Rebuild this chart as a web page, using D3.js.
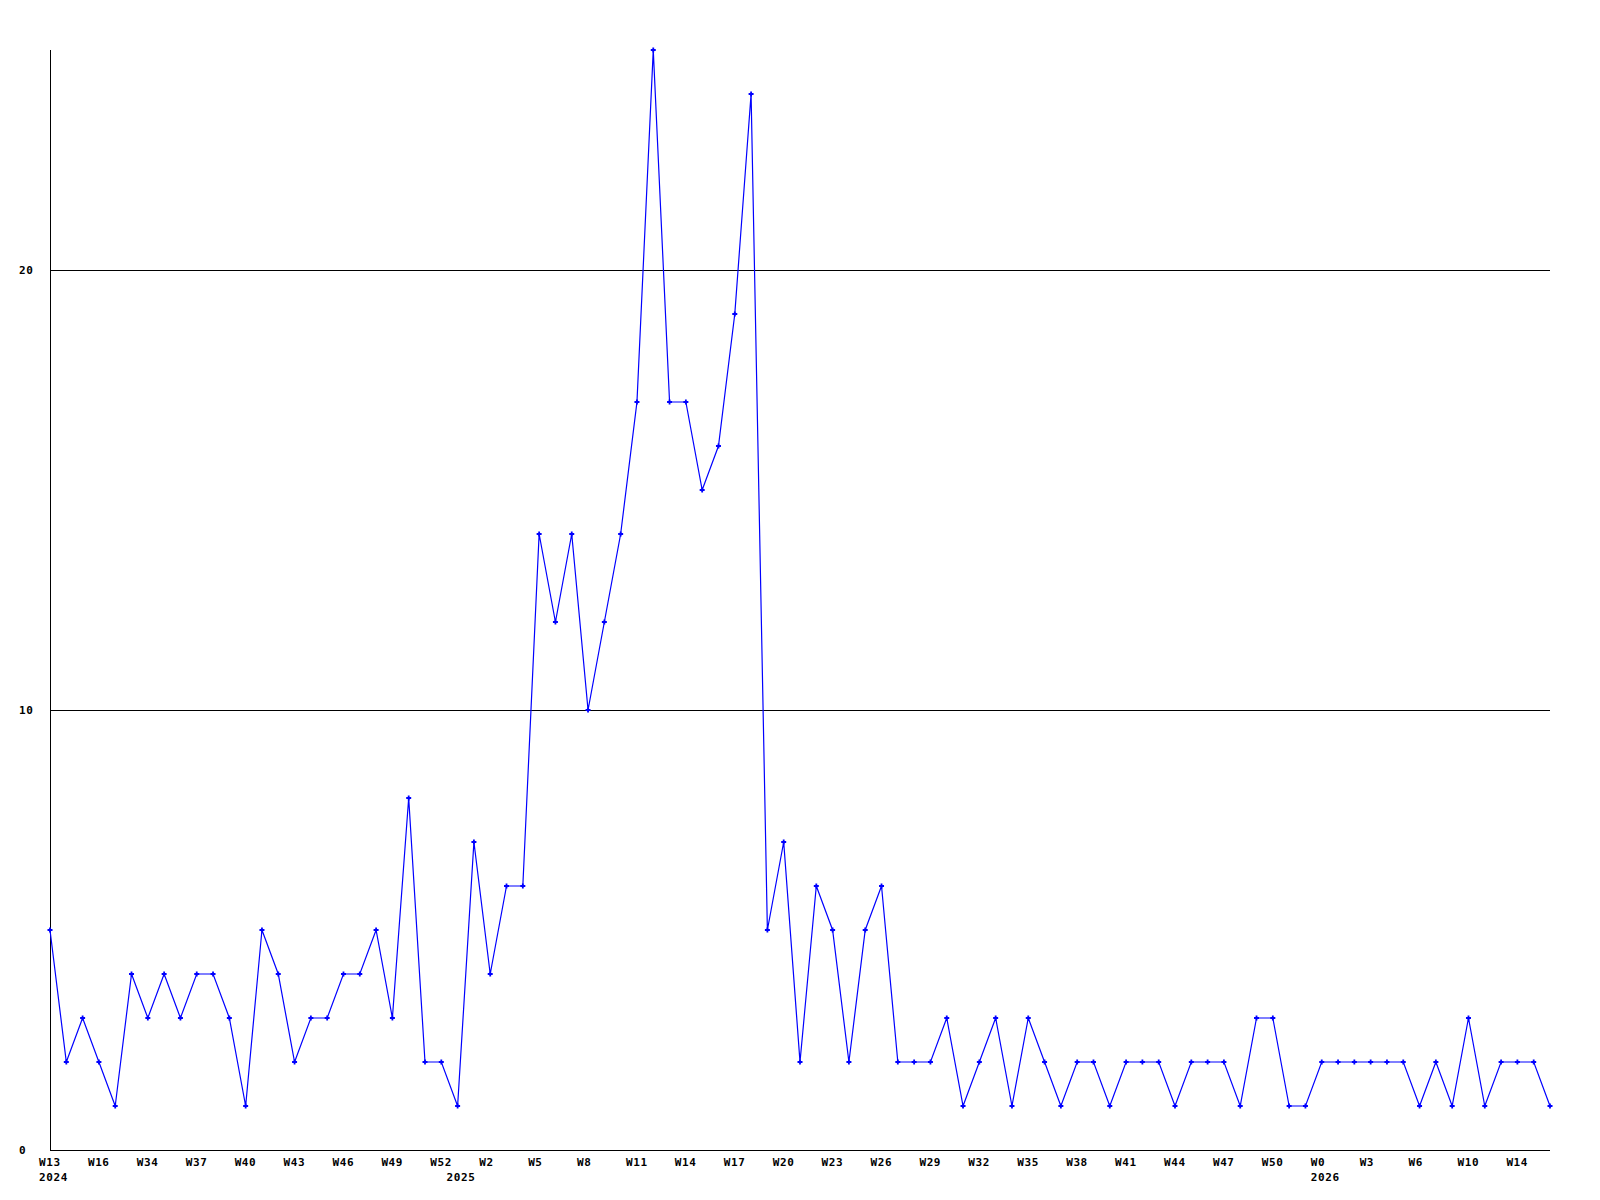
<!DOCTYPE html>
<html>
<head>
<meta charset="utf-8">
<script src="https://cdn.jsdelivr.net/npm/d3@7"></script>
<style>
html,body{margin:0;padding:0;background:#fff;}
text{font-family:"DejaVu Sans Mono",monospace;font-weight:bold;font-size:11px;letter-spacing:0.6px;fill:#000;}
</style>
</head>
<body>
<svg id="chart" width="1600" height="1200"></svg>
<script>
// Weekly values (one point per week, 93 points)
const values = [5,2,3,2,1,4,3,4,3,4,4,3,1,5,4,2,3,3,4,4,5,3,8,2,2,1,7,4,6,6,
  14,12,14,10,12,14,17,25,17,17,15,16,19,24,5,7,2,6,5,2,5,6,2,2,2,3,1,2,3,1,
  3,2,1,2,2,1,2,2,2,1,2,2,2,1,3,3,1,1,2,2,2,2,2,2,1,2,1,3,1,2,2,2,1];
// Week tick labels (index of point -> label)
const weekTickIndex = [0,3,6,9,12,15,18,21,24,27,30,33,36,39,42,45,48,51,54,57,60,63,66,69,72,75,78,81,84,87,90];
const weekTickLabels = ["W13","W16","W34","W37","W40","W43","W46","W49","W52","W2","W5","W8","W11","W14","W17","W20","W23","W26","W29","W32","W35","W38","W41","W44","W47","W50","W0","W3","W6","W10","W14"];
// Year labels (index of point -> year)
const yearTickIndex = [0,25,78];
const yearTickLabels = ["2024","2025","2026"];
// Y-axis ticks
const yTicks = [0,10,20];

const svg = d3.select("#chart");
const x = d3.scaleLinear().domain([0, values.length - 1]).range([50, 1550]);
const y = d3.scaleLinear().domain([0, 25]).range([1150, 50]);

// grid lines
svg.append("g").selectAll("line").data(yTicks.filter(d => d > 0)).join("line")
  .attr("x1", 50).attr("x2", 1550)
  .attr("y1", d => Math.round(y(d)) + 0.5).attr("y2", d => Math.round(y(d)) + 0.5)
  .attr("stroke", "#000").attr("stroke-width", 1).attr("shape-rendering", "crispEdges");

// axes lines
svg.append("line").attr("x1", 50.5).attr("x2", 50.5).attr("y1", 50).attr("y2", 1150.5)
  .attr("stroke", "#000").attr("stroke-width", 1).attr("shape-rendering", "crispEdges");
svg.append("line").attr("x1", 50).attr("x2", 1550).attr("y1", 1150.5).attr("y2", 1150.5)
  .attr("stroke", "#000").attr("stroke-width", 1).attr("shape-rendering", "crispEdges");

// y labels
svg.append("g").selectAll("text").data(yTicks).join("text")
  .attr("x", 19).attr("y", d => y(d) + 4)
  .attr("text-anchor", "start").text(d => d);

// x week labels
svg.append("g").selectAll("text").data(weekTickIndex).join("text")
  .attr("x", d => x(d) - 11).attr("y", 1166)
  .attr("text-anchor", "start").text((d, i) => weekTickLabels[i]);

// year labels
svg.append("g").selectAll("text").data(yearTickIndex).join("text")
  .attr("x", d => x(d) - 11).attr("y", 1181)
  .attr("text-anchor", "start").text((d, i) => yearTickLabels[i]);

// line
const line = d3.line().x((d, i) => x(i)).y(d => y(d));
svg.append("path").datum(values).attr("d", line)
  .attr("fill", "none").attr("stroke", "#0000ff").attr("stroke-width", 1.2);

// markers
svg.append("g").selectAll("path").data(values).join("path")
  .attr("transform", (d, i) => `translate(${x(i)},${y(d)})`)
  .attr("d", "M-2.5,0H2.5M0,-2.5V2.5")
  .attr("stroke", "#0000ff").attr("stroke-width", 1.8).attr("fill", "none");
</script>
</body>
</html>
